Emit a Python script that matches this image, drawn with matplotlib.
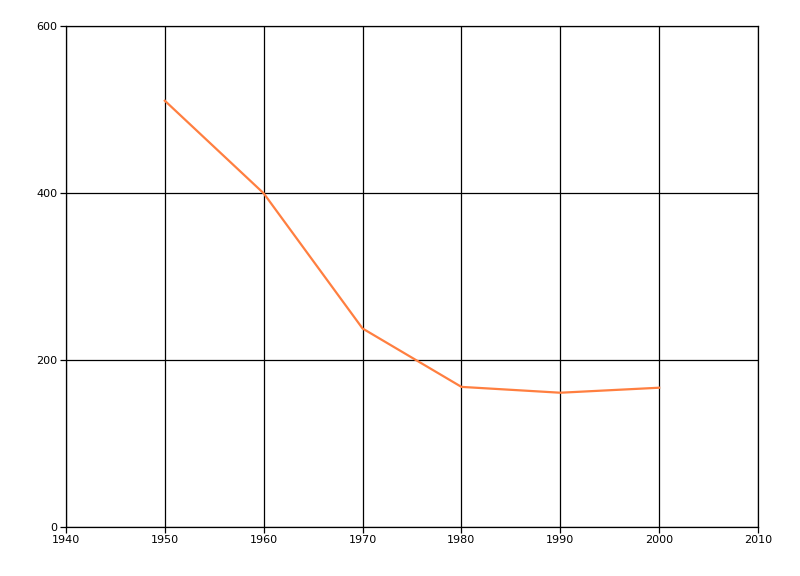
import matplotlib
matplotlib.use('Agg')
import matplotlib.pyplot as plt

# data
years = [1950, 1960, 1970, 1980, 1990, 2000]
values = [511, 400, 238, 168, 161, 167]

x_ticks = [1940, 1950, 1960, 1970, 1980, 1990, 2000, 2010]
y_ticks = [0, 200, 400, 600]

fig = plt.figure(figsize=(8, 5.76), dpi=100)
ax = fig.add_axes([0.0825, 0.085, 0.865, 0.869])

ax.plot(years, values, color='#ff7f40', linewidth=1.6, zorder=3)

ax.set_xlim(1940, 2010)
ax.set_ylim(0, 600)
ax.set_xticks(x_ticks)
ax.set_yticks(y_ticks)
ax.grid(True, color='black', linewidth=0.9)
for s in ax.spines.values():
    s.set_color('black')
    s.set_linewidth(0.9)
ax.tick_params(axis='both', labelsize=8, length=4, width=0.9, color='black', pad=2)

fig.savefig('out.png', dpi=100)
